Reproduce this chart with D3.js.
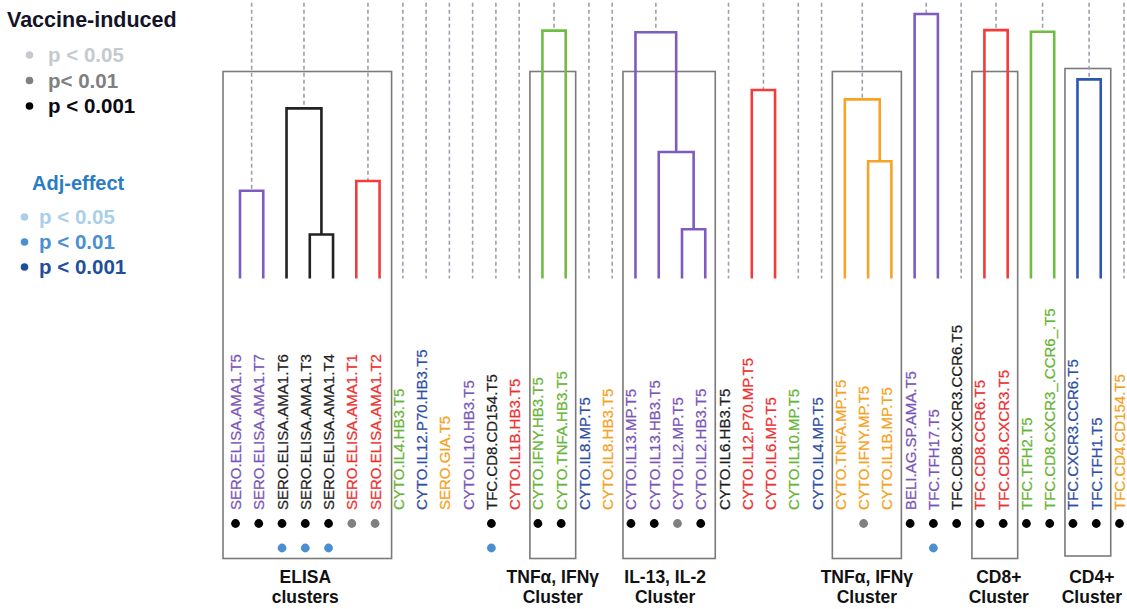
<!DOCTYPE html>
<html>
<head>
<meta charset="utf-8">
<script src="https://cdn.jsdelivr.net/npm/d3@7"></script>
<style>
  body { margin: 0; background: #fff; }
  svg { font-family: "Liberation Sans", Arial, sans-serif; }
</style>
</head>
<body>
<svg id="chart" width="1127" height="609"></svg>
<script>
// leaves, left to right
var leaves = ["SERO.ELISA.AMA1.T5", "SERO.ELISA.AMA1.T7", "SERO.ELISA.AMA1.T6", "SERO.ELISA.AMA1.T3",
  "SERO.ELISA.AMA1.T4", "SERO.ELISA.AMA1.T1", "SERO.ELISA.AMA1.T2", "CYTO.IL4.HB3.T5",
  "CYTO.IL12.P70.HB3.T5", "SERO.GIA.T5", "CYTO.IL10.HB3.T5", "TFC.CD8.CD154.T5", "CYTO.IL1B.HB3.T5",
  "CYTO.IFNY.HB3.T5", "CYTO.TNFA.HB3.T5", "CYTO.IL8.MP.T5", "CYTO.IL8.HB3.T5", "CYTO.IL13.MP.T5",
  "CYTO.IL13.HB3.T5", "CYTO.IL2.MP.T5", "CYTO.IL2.HB3.T5", "CYTO.IL6.HB3.T5", "CYTO.IL12.P70.MP.T5",
  "CYTO.IL6.MP.T5", "CYTO.IL10.MP.T5", "CYTO.IL4.MP.T5", "CYTO.TNFA.MP.T5", "CYTO.IFNY.MP.T5",
  "CYTO.IL1B.MP.T5", "BELI.AG.SP.AMA.T5", "TFC.TFH17.T5", "TFC.CD8.CXCR3.CCR6.T5", "TFC.CD8.CCR6.T5",
  "TFC.CD8.CXCR3.T5", "TFC.TFH2.T5", "TFC.CD8.CXCR3_.CCR6_.T5", "TFC.CXCR3.CCR6.T5", "TFC.TFH1.T5",
  "TFC.CD4.CD154.T5"];

// colour group of each leaf
var groups = ["purple", "purple", "black", "black", "black", "red", "red", "green",
  "blue", "orange", "purple", "black", "red",
  "green", "green", "blue", "orange", "purple",
  "purple", "purple", "purple", "black", "red",
  "red", "green", "blue", "orange", "orange",
  "orange", "purple", "purple", "black", "red",
  "red", "green", "green", "blue", "blue",
  "orange"];

// vaccine-induced significance (0 none, 1 p<0.05, 2 p<0.01, 3 p<0.001)
var vaccineSig = [3, 3, 3, 3, 3, 2, 2, 0, 0, 0, 0, 3, 0, 3, 3, 0, 0, 3, 3, 2, 3, 0, 0, 0, 0, 0,
  0, 2, 0, 3, 3, 3, 3, 3, 3, 3, 3, 3, 3];
// adjuvant effect significance
var adjSig = [0, 0, 2, 2, 2, 0, 0, 0, 0, 0, 0, 2, 0, 0, 0, 0, 0, 0, 0, 0, 0, 0, 0, 0, 0, 0,
  0, 0, 0, 0, 2, 0, 0, 0, 0, 0, 0, 0, 0];

// hclust style merges: negative = leaf (1-based), positive = earlier merge
var merges = [[-1, -2], [-4, -5], [-3, 2], [-6, -7], [-14, -15], [-20, -21], [-19, 6], [-18, 7],
  [-23, -24], [-28, -29], [-27, 10], [-30, -31], [-33, -34], [-35, -36], [-37, -38]];
var heights = [0.315, 0.158, 0.611, 0.35, 0.89, 0.177, 0.454, 0.884,
  0.677, 0.421, 0.643, 0.95, 0.892, 0.886, 0.715];

// boxed clusters: first leaf, last leaf, caption
var clusterFirst = [1, 14, 18, 27, 33, 37];
var clusterLast = [7, 15, 21, 29, 34, 38];
var clusterTitle = [["ELISA", "clusters"], ["TNF\u03b1, IFN\u03b3", "Cluster"], ["IL-13, IL-2", "Cluster"],
  ["TNF\u03b1, IFN\u03b3", "Cluster"], ["CD8+", "Cluster"], ["CD4+", "Cluster"]];

var vaccineLegend = ["p < 0.05", "p< 0.01", "p < 0.001"];
var adjLegend = ["p < 0.05", "p < 0.01", "p < 0.001"];

var svg = d3.select("#chart");

var lineColor = d3.scaleOrdinal()
  .domain(["purple", "black", "red", "green", "blue", "orange"])
  .range(["#7e5cbf", "#222222", "#f23b3b", "#6fbd42", "#2b56b3", "#f7a325"]);
var textColor = d3.scaleOrdinal()
  .domain(["purple", "black", "red", "green", "blue", "orange"])
  .range(["#7a55b8", "#1e1e1e", "#ee3030", "#68b536", "#2f4ea6", "#f5a21c"]);
var vacColor = ["none", "#c6cace", "#808080", "#000000"];
var adjColor = ["none", "#a9cfe9", "#4a8fd3", "#1f4e9e"];

var x = d3.scalePoint().domain(d3.range(1, leaves.length + 1)).range([240, 1124]);
var y = d3.scaleLinear().domain([0, 1]).range([278.5, 0]);

// ---- boxes
var gBox = svg.append("g");
clusterFirst.forEach(function(f, i) {
  var x0 = x(f) - (i == 0 ? 17 : 12.5), x1 = x(clusterLast[i]) + (i == 0 ? 12 : 10);
  var top = i == 5 ? 68.5 : 71.5, bottom = i == 5 ? 556 : 558.5;
  gBox.append("rect")
    .attr("x", x0).attr("y", top)
    .attr("width", x1 - x0).attr("height", bottom - top)
    .attr("fill", "none").attr("stroke", "#7a7a7a").attr("stroke-width", 1.6);
  var cx = (x0 + x1) / 2;
  if (i == 0) cx -= 2;
  if (i == 2) cx -= 4;
  if (i == 4 || i == 5) cx += 4;
  clusterTitle[i].forEach(function(t, j) {
    gBox.append("text")
      .attr("x", cx).attr("y", 583 + j * 20)
      .attr("text-anchor", "middle")
      .attr("font-weight", "bold").attr("font-size", "17.5px")
      .attr("fill", "#111")
      .text(t);
  });
});

// ---- dendrogram
var nodeX = [], nodeGroup = [];
function pos(id) { return id < 0 ? x(-id) : nodeX[id - 1]; }
function hgt(id) { return id < 0 ? 0 : heights[id - 1]; }
function grp(id) { return id < 0 ? groups[-id - 1] : nodeGroup[id - 1]; }
var used = {};
merges.forEach(function(m, i) {
  nodeX.push((pos(m[0]) + pos(m[1])) / 2);
  nodeGroup.push(grp(m[0]));
  m.forEach(function(c) { used[c] = true; });
});

var gTree = svg.append("g");
// dashed guides for singletons and top merges
var dashed = [];
leaves.forEach(function(d, i) { if (!used[-(i + 1)]) dashed.push([x(i + 1), y(0)]); });
merges.forEach(function(m, i) { if (!used[i + 1]) dashed.push([nodeX[i], y(heights[i])]); });
gTree.selectAll("line.guide")
  .data(dashed)
  .enter()
  .append("line")
  .attr("class", "guide")
  .attr("x1", function(d) { return d[0]; })
  .attr("x2", function(d) { return d[0]; })
  .attr("y1", y(0.99))
  .attr("y2", function(d) { return d[1]; })
  .attr("stroke", "#9aa1aa")
  .attr("stroke-width", 1.6)
  .attr("stroke-dasharray", "4,3");

merges.forEach(function(m, i) {
  var path = d3.path();
  path.moveTo(pos(m[0]), y(hgt(m[0])));
  path.lineTo(pos(m[0]), y(heights[i]));
  path.lineTo(pos(m[1]), y(heights[i]));
  path.lineTo(pos(m[1]), y(hgt(m[1])));
  gTree.append("path")
    .attr("d", path.toString())
    .attr("fill", "none")
    .attr("stroke", lineColor(nodeGroup[i]))
    .attr("stroke-width", 2.6);
});

// ---- leaf labels and dots
var gLab = svg.append("g");
gLab.selectAll("text")
  .data(leaves)
  .enter()
  .append("text")
  .attr("transform", function(d, i) { return "translate(" + (x(i + 1) + 1) + ",510) rotate(-90)"; })
  .attr("text-anchor", "start")
  .attr("font-size", "15px")
  .attr("fill", function(d, i) { return textColor(groups[i]); })
  .attr("stroke", function(d, i) { return textColor(groups[i]); })
  .attr("stroke-width", 0.25)
  .text(function(d) { return d; });

vaccineSig.forEach(function(s, i) {
  if (s > 0) gLab.append("circle")
    .attr("cx", x(i + 1) - 4.5).attr("cy", 523.5).attr("r", 4.4)
    .attr("fill", vacColor[s]);
});
adjSig.forEach(function(s, i) {
  if (s > 0) gLab.append("circle")
    .attr("cx", x(i + 1) - 4.5).attr("cy", 548).attr("r", 4.4)
    .attr("fill", adjColor[s]);
});

// ---- legend
var gLeg = svg.append("g");
gLeg.append("text")
  .attr("x", 7).attr("y", 27)
  .attr("font-weight", "bold").attr("font-size", "21.5px")
  .attr("fill", "#141428")
  .text("Vaccine-induced");
vaccineLegend.forEach(function(t, i) {
  var yy = 55 + i * 25.5;
  gLeg.append("circle").attr("cx", 29.5).attr("cy", yy).attr("r", 3.8).attr("fill", vacColor[i + 1]);
  gLeg.append("text")
    .attr("x", 48).attr("y", yy + 7)
    .attr("font-weight", "bold").attr("font-size", "20.5px")
    .attr("fill", i == 2 ? "#0a0a14" : vacColor[i + 1])
    .text(t);
});
gLeg.append("text")
  .attr("x", 32).attr("y", 190)
  .attr("font-weight", "bold").attr("font-size", "20px")
  .attr("fill", "#2a7cc4")
  .text("Adj-effect");
adjLegend.forEach(function(t, i) {
  var yy = 217 + i * 25;
  gLeg.append("circle").attr("cx", 24.5).attr("cy", yy).attr("r", 3.8).attr("fill", adjColor[i + 1]);
  gLeg.append("text")
    .attr("x", 39).attr("y", yy + 7)
    .attr("font-weight", "bold").attr("font-size", "20.5px")
    .attr("fill", adjColor[i + 1])
    .text(t);
});
</script>
</body>
</html>
